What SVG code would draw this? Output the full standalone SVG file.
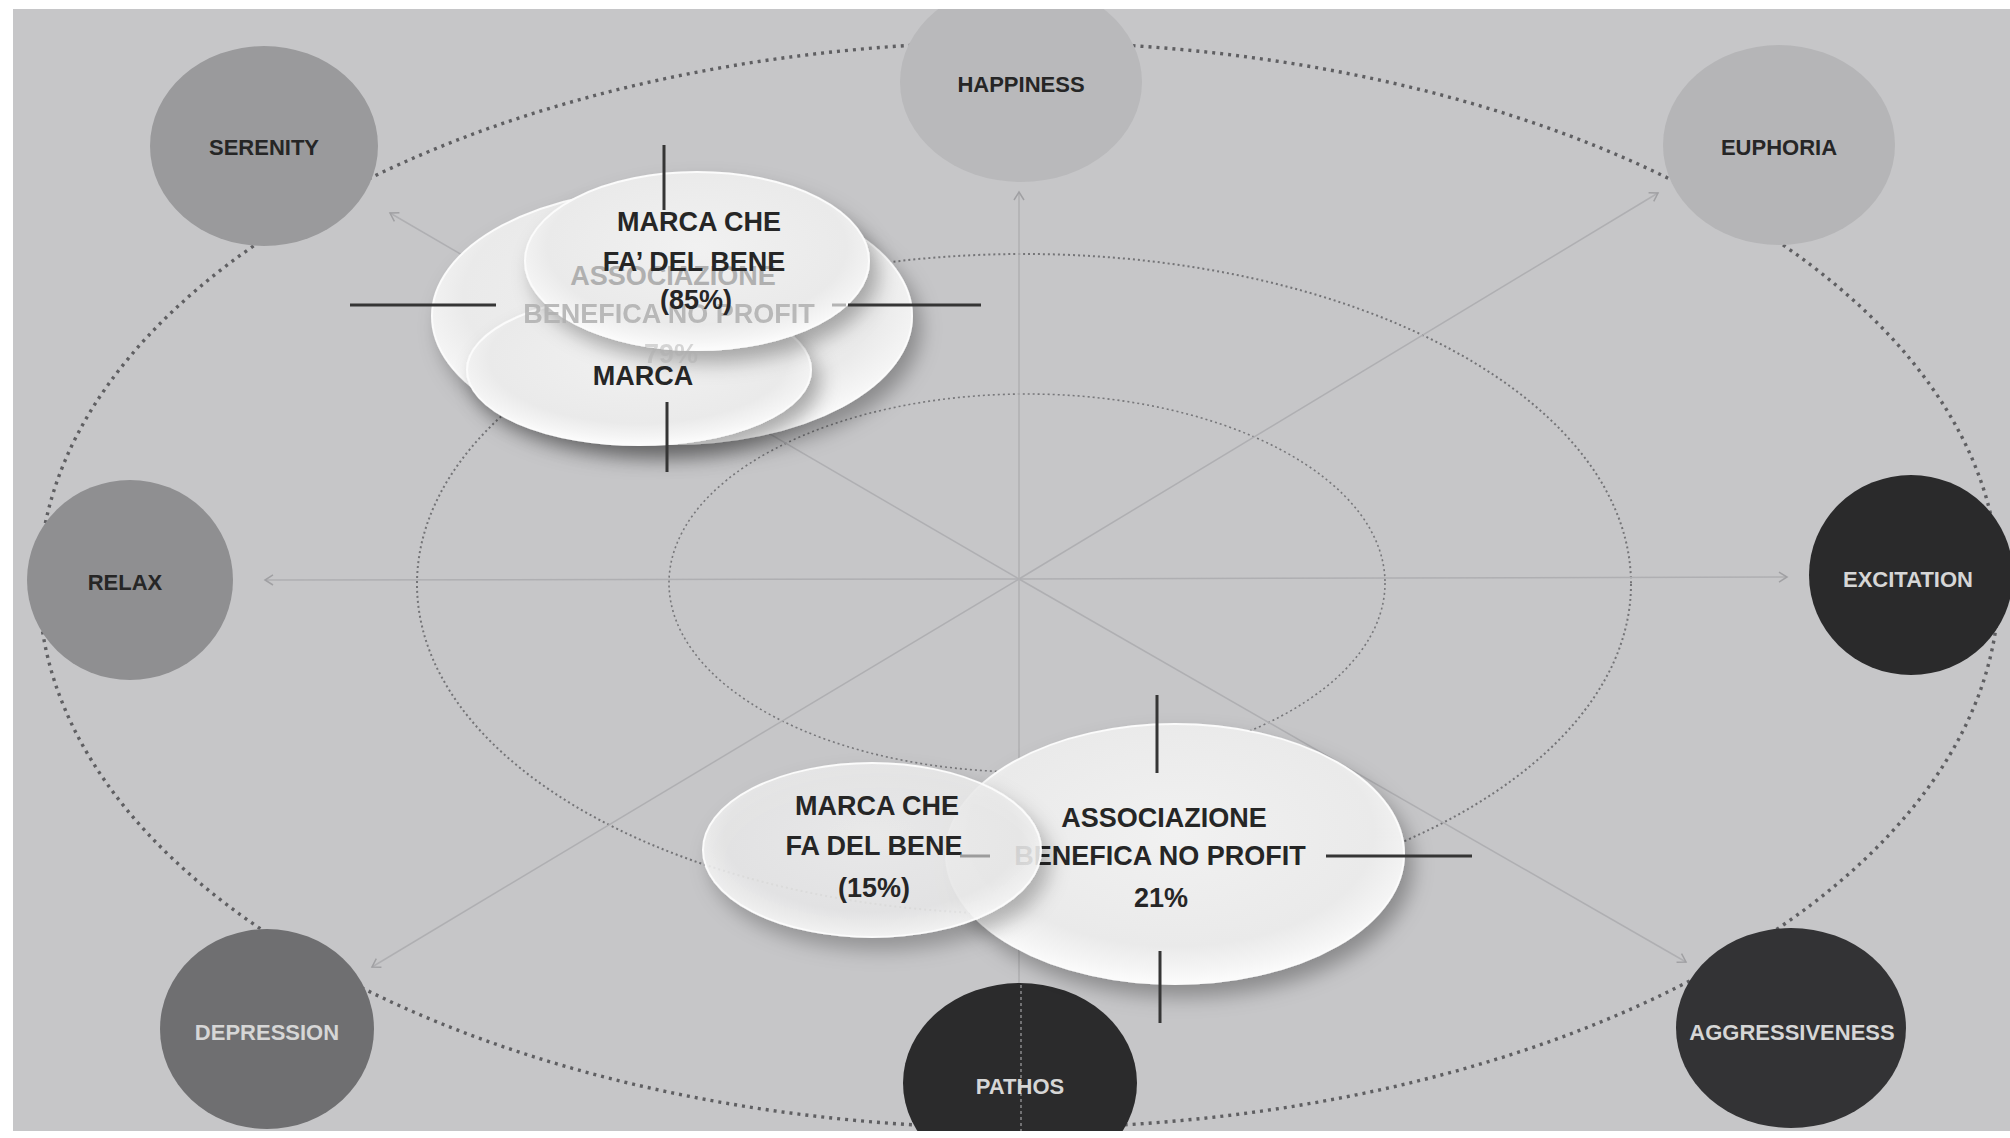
<svg xmlns="http://www.w3.org/2000/svg" width="2010" height="1138" viewBox="0 0 2010 1138">
<style>
.ring{fill:none}
.outer{stroke:#5f5f62;stroke-width:3.4;stroke-dasharray:3 5}
.mid{stroke:#747477;stroke-width:2;stroke-dasharray:2 3}
.inner{stroke:#77777a;stroke-width:1.6;stroke-dasharray:2 3}
.ray{stroke:#afafb2;stroke-width:1.5;fill:none}
.nt{font-family:"Liberation Sans",Arial,sans-serif;font-weight:700;font-size:22px;text-anchor:middle}
.dk{fill:#262626}
.lt{fill:#d6d6d6}
.bt{font-family:"Liberation Sans",Arial,sans-serif;font-weight:700;font-size:27px;text-anchor:middle;fill:#262626}
.ft{font-family:"Liberation Sans",Arial,sans-serif;font-weight:700;font-size:27px;text-anchor:middle;fill:#b0b0b0}
.cross{stroke:#353535;stroke-width:3}
.bub{fill:url(#bubg);stroke:#fbfbfb;stroke-width:2;filter:url(#sh)}
</style>
<defs>
<marker id="arr" markerWidth="12" markerHeight="12" refX="9" refY="6" orient="auto" markerUnits="userSpaceOnUse">
<path d="M1,1 L9,6 L1,11" fill="none" stroke="#a0a0a3" stroke-width="1.5"/>
</marker>
<radialGradient id="bubg" cx="50%" cy="42%" r="58%">
<stop offset="0" stop-color="#f1f1f1"/>
<stop offset="0.75" stop-color="#eaeaea"/>
<stop offset="0.9" stop-color="#f4f4f4"/>
<stop offset="1" stop-color="#fcfcfc"/>
</radialGradient>
<filter id="sh" x="-20%" y="-25%" width="150%" height="170%">
<feGaussianBlur in="SourceAlpha" stdDeviation="10"/>
<feOffset dx="8" dy="12" result="b"/>
<feFlood flood-color="#000" flood-opacity="0.3"/>
<feComposite in2="b" operator="in"/>
<feMerge><feMergeNode/><feMergeNode in="SourceGraphic"/></feMerge>
</filter>
</defs>
<rect x="0" y="0" width="2010" height="1138" fill="#ffffff"/>
<rect x="13" y="9" width="1997" height="1122" fill="#c6c6c8"/>

<g id="rings">
<ellipse class="ring outer" cx="1019" cy="585" rx="980" ry="543"/>
<ellipse class="ring mid" cx="1024" cy="584" rx="607" ry="330"/>
<ellipse class="ring inner" cx="1027" cy="583" rx="358" ry="189"/>
</g>

<g id="connectors">
<line class="ray" x1="1019" y1="579" x2="1019" y2="192" marker-end="url(#arr)"/>
<line class="ray" x1="1019" y1="579" x2="265" y2="580" marker-end="url(#arr)"/>
<line class="ray" x1="1019" y1="579" x2="1787" y2="577" marker-end="url(#arr)"/>
<line class="ray" x1="1019" y1="579" x2="390" y2="213" marker-end="url(#arr)"/>
<line class="ray" x1="1019" y1="579" x2="1658" y2="193" marker-end="url(#arr)"/>
<line class="ray" x1="1019" y1="579" x2="372" y2="967" marker-end="url(#arr)"/>
<line class="ray" x1="1019" y1="579" x2="1686" y2="962" marker-end="url(#arr)"/>
<line class="ray" x1="1019" y1="579" x2="1019" y2="985"/>
</g>

<g id="node-serenity">
<ellipse cx="264" cy="146" rx="114" ry="100" fill="#9a9a9c"/>
<text class="nt dk" x="264" y="155">SERENITY</text>
</g>
<g id="node-happiness">
<ellipse cx="1021" cy="82" rx="121" ry="100" fill="#b9b9bb"/>
<text class="nt dk" x="1021" y="92">HAPPINESS</text>
</g>
<g id="node-euphoria">
<ellipse cx="1779" cy="145" rx="116" ry="100" fill="#b5b5b7"/>
<text class="nt dk" x="1779" y="155">EUPHORIA</text>
</g>
<g id="node-relax">
<ellipse cx="130" cy="580" rx="103" ry="100" fill="#8f8f91"/>
<text class="nt dk" x="125" y="590">RELAX</text>
</g>
<g id="node-excitation">
<ellipse cx="1911" cy="575" rx="102" ry="100" fill="#2a2a2b"/>
<text class="nt lt" x="1908" y="587">EXCITATION</text>
</g>
<g id="node-depression">
<ellipse cx="267" cy="1029" rx="107" ry="100" fill="#6f6f71"/>
<text class="nt lt" x="267" y="1040">DEPRESSION</text>
</g>
<g id="node-pathos">
<ellipse cx="1020" cy="1083" rx="117" ry="100" fill="#2b2b2c"/>
<line x1="1021" y1="985" x2="1021" y2="1131" stroke="#8a8a8c" stroke-width="1.5" stroke-dasharray="3 3"/>
<text class="nt lt" x="1020" y="1094">PATHOS</text>
</g>
<g id="node-aggressiveness">
<ellipse cx="1791" cy="1028" rx="115" ry="100" fill="#333335"/>
<text class="nt lt" x="1792" y="1040">AGGRESSIVENESS</text>
</g>

<g id="bubble-associazione-79">
<ellipse class="bub" cx="672" cy="316" rx="240" ry="128"/>
</g>
<g id="bubble-marca">
<ellipse class="bub" cx="639" cy="370" rx="172" ry="75"/>
</g>
<g id="bubble-marca-che-85">
<ellipse class="bub" cx="697" cy="261" rx="172" ry="89"/>
</g>
<g id="labels-top">
<text class="ft" x="673" y="285">ASSOCIAZIONE</text>
<text class="ft" x="669" y="323" opacity="0.85">BENEFICA NO PROFIT</text>
<text class="ft" x="671" y="363" opacity="0.5">79%</text>
<text class="bt" x="699" y="231">MARCA CHE</text>
<text class="bt" x="694" y="271">FA’ DEL BENE</text>
<text class="bt" x="696" y="309">(85%)</text>
<text class="bt" x="643" y="385">MARCA</text>
<line class="cross" x1="664" y1="145" x2="664" y2="210"/>
<line class="cross" x1="350" y1="305" x2="496" y2="305"/>
<line x1="832" y1="305" x2="846" y2="305" stroke="#b4b4b4" stroke-width="3"/>
<line class="cross" x1="848" y1="305" x2="981" y2="305"/>
<line class="cross" x1="667" y1="402" x2="667" y2="472"/>
</g>

<g id="bubble-associazione-21">
<ellipse class="bub" cx="1175" cy="854" rx="229" ry="130"/>
<text class="bt" x="1164" y="827">ASSOCIAZIONE</text>
<text class="bt" x="1160" y="865">BENEFICA NO PROFIT</text>
<text class="bt" x="1161" y="907">21%</text>
</g>
<g id="bubble-marca-che-15">
<ellipse class="bub" cx="872" cy="850" rx="169" ry="87" fill-opacity="0.86"/>
<text class="bt" x="877" y="815">MARCA CHE</text>
<text class="bt" x="874" y="855">FA DEL BENE</text>
<text class="bt" x="874" y="897">(15%)</text>
</g>
<g id="labels-bottom">
<line x1="960" y1="856" x2="990" y2="856" stroke="#9c9c9c" stroke-width="3"/>
<line class="cross" x1="1157" y1="695" x2="1157" y2="773"/>
<line class="cross" x1="1326" y1="856" x2="1472" y2="856"/>
<line class="cross" x1="1160" y1="951" x2="1160" y2="1023"/>
</g>

<rect x="0" y="0" width="2010" height="9" fill="#ffffff"/>
<rect x="0" y="1131" width="2010" height="7" fill="#ffffff"/>
<rect x="0" y="0" width="13" height="1138" fill="#ffffff"/>
</svg>
